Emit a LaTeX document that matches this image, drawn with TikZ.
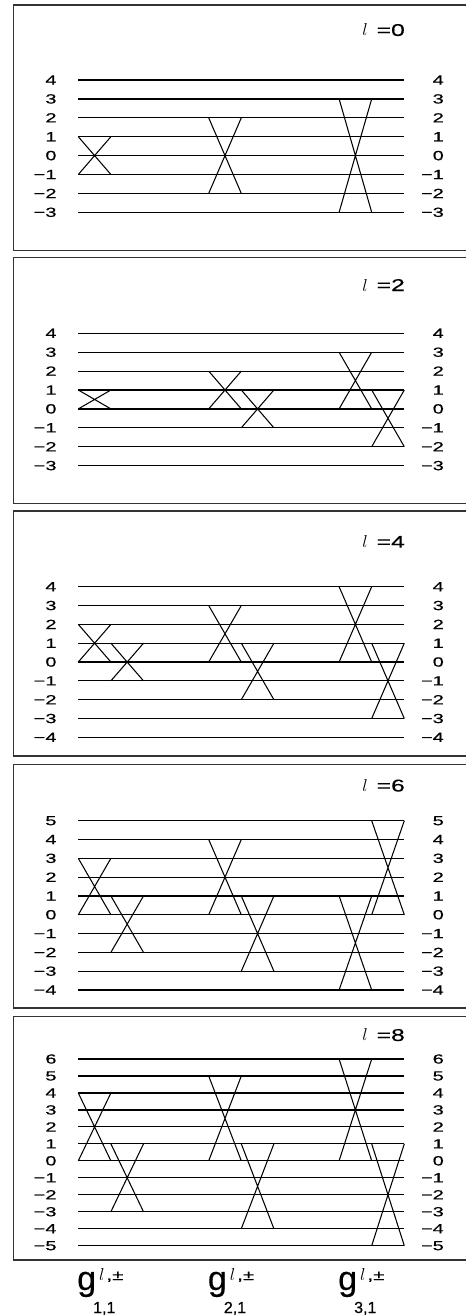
\documentclass[tikz,border=0pt]{standalone}
\usepackage{fontspec}
\setmainfont{Liberation Sans}
\newfontfamily\labfont[FakeStretch=1.5,FakeBold=0.5]{Liberation Sans}
\newfontfamily\eqfont[FakeStretch=1.45,FakeBold=0.4]{Liberation Sans}
\newfontfamily\gfont[FakeBold=0.4]{Liberation Sans}
\tikzset{
  boxline/.style={draw=black!80, line width=1.6pt},
  levline/.style={line width=1.2pt, black},
  crossline/.style={line width=1.05pt, black},
  levlab/.style={anchor=east, inner sep=0pt, font=\labfont\fontsize{13.3}{13.3}\selectfont},
  llab/.style={anchor=east, inner sep=0pt, font=\eqfont\fontsize{17}{17}\selectfont},
  gmain/.style={anchor=base west, inner sep=0pt, font=\gfont\fontsize{34}{34}\selectfont},
  gsup/.style={anchor=base west, inner sep=0pt, font=\eqfont\fontsize{14}{14}\selectfont},
  gsub/.style={anchor=base west, inner sep=0pt, font=\gfont\fontsize{16}{16}\selectfont}
}
% #1 panel id, #2 top, #3 bottom, #4 max level, #5 second level, #6 min level,
% #7 y of max level, #8 spacing, #9 crossings list
\newcommand\mypanel[9]{%
  \draw[boxline] (13.5,#2) rectangle (490,#3);
  \foreach \n in {#4,#5,...,#6}{%
    \pgfmathsetmacro\yy{#7+(#4-\n)*#8}%
    \pgfmathtruncatemacro\m{abs(\n)}%
    \draw[levline] (78.3,\yy) -- (404.3,\yy);
    \ifnum\n<0
      \node[levlab] (L#1n\m) at (56.7,\yy) {−\m};
      \node[levlab] (R#1n\m) at (444,\yy) {−\m};
    \else
      \node[levlab] (L#1p\m) at (56.7,\yy) {\m};
      \node[levlab] (R#1p\m) at (444,\yy) {\m};
    \fi
  }
  \foreach \c/\a/\b in {#9}{%
    \pgfmathsetmacro\xa{78.3+32.6*\c}%
    \pgfmathsetmacro\xb{\xa+32.6}%
    \pgfmathsetmacro\ya{#7+(#4-\a)*#8}%
    \pgfmathsetmacro\yb{#7+(#4-\b)*#8}%
    \draw[crossline] (\xa,\ya) -- (\xb,\yb) (\xa,\yb) -- (\xb,\ya);
  }
}
\newcommand\lval[1]{{\fontsize{18.5}{18.5}\selectfont$l$}\hspace{9pt}=#1}
\newcommand\gsupr{{\fontsize{16}{16}\selectfont$l$}\hspace{2pt},±}
\begin{document}
\begin{tikzpicture}[x=1pt,y=-1pt]
\useasboundingbox (0,0) rectangle (466,1315);
\fill[white] (0,0) rectangle (466,1315);

\mypanel{a}{5}{250.5}{4}{3}{-3}{80}{18.9}{0/1/-1,4/2/-2,8/3/-3}
\node[llab] (la) at (405,30) {\lval{0}};

\mypanel{b}{257.3}{503.3}{4}{3}{-3}{333.3}{18.9}{0/1/0,4/2/0,5/1/-1,8/3/0,9/1/-2}
\node[llab] (lb) at (405,285) {\lval{2}};

\mypanel{c}{510.7}{755.7}{4}{3}{-4}{586.7}{18.83}{0/2/0,1/1/-1,4/3/0,5/1/-2,8/4/0,9/1/-3}
\node[llab] (lc) at (405,541.7) {\lval{4}};

\mypanel{d}{764.3}{1008}{5}{4}{-4}{820.7}{18.81}{0/3/0,1/1/-2,4/4/0,5/1/-3,8/1/-4,9/5/0}
\node[llab] (ld) at (405,785.5) {\lval{6}};

\mypanel{e}{1016.5}{1260}{6}{5}{-5}{1059}{16.97}{0/4/0,1/1/-3,4/5/0,5/1/-4,8/6/0,9/1/-5}
\node[llab] (le) at (405,1035) {\lval{8}};

\node[gmain] (g1) at (77,1290) {g};
\node[gsup] (g1s) at (99,1280) {\gsupr};
\node[gsub] (g1b) at (93,1313) {1,1};

\node[gmain] (g2) at (207.7,1290) {g};
\node[gsup] (g2s) at (229.7,1280) {\gsupr};
\node[gsub] (g2b) at (223.7,1313) {2,1};

\node[gmain] (g3) at (338,1290) {g};
\node[gsup] (g3s) at (360,1280) {\gsupr};
\node[gsub] (g3b) at (354,1313) {3,1};
\end{tikzpicture}
\end{document}
